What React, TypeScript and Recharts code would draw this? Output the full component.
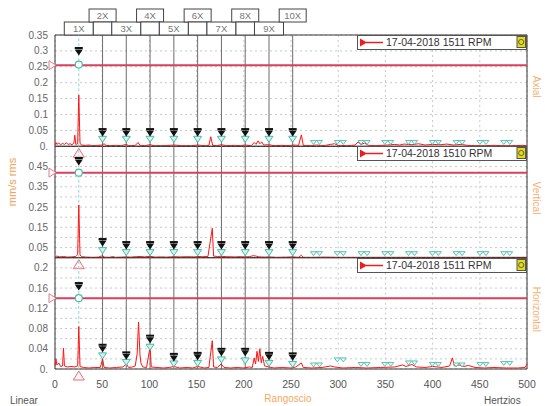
import React from "react";
import {
  ComposedChart, Line, Scatter, XAxis, YAxis, CartesianGrid,
  ReferenceLine, ReferenceArea,
} from "recharts";

// harmonics of 1511 rpm
const harmonicHz = [25.2, 50.4, 75.5, 100.7, 125.9, 151.1, 176.3, 201.5, 226.7, 251.8,
  277.0, 302.2, 327.4, 352.5, 377.7, 402.9, 428.1, 453.3, 478.5];
const harmonicNames = ["1X", "2X", "3X", "4X", "5X", "6X", "7X", "8X", "9X", "10X"];
const xTicks = [0, 50, 100, 150, 200, 250, 300, 350, 400, 450, 500];

// Axial
const axialHz = [0, 1, 2, 4, 6, 8, 10, 12, 14, 16, 18, 20, 21, 22, 24, 25.2, 26.5, 28, 32, 36, 40, 45, 50, 52, 54,
  58, 64, 70, 75.5, 78, 85, 88, 90, 95, 100.7, 105, 115, 126, 135, 145, 151, 158, 163, 165, 167, 172, 176, 182,
  190, 196, 201, 208, 211, 213, 215, 217, 219, 221, 226.6, 232, 240, 248, 252, 258, 261, 263, 270, 277, 285, 292,
  296, 300, 310, 318, 321, 324, 328, 332, 340, 352, 360, 365, 370, 378, 385, 392, 400, 408, 415, 422, 430, 437,
  445, 455, 465, 475, 485, 495, 500];
const axialAmp = [0.004, 0.012, 0.006, 0.01, 0.005, 0.009, 0.006, 0.011, 0.006, 0.008, 0.005, 0.01, 0.035, 0.006,
  0.008, 0.161, 0.01, 0.004, 0.003, 0.004, 0.002, 0.003, 0.004, 0.008, 0.003, 0.002, 0.003, 0.002, 0.006, 0.002,
  0.003, 0.012, 0.003, 0.002, 0.005, 0.002, 0.002, 0.004, 0.002, 0.002, 0.004, 0.002, 0.003, 0.03, 0.003, 0.002,
  0.005, 0.002, 0.003, 0.002, 0.004, 0.002, 0.012, 0.006, 0.017, 0.008, 0.014, 0.004, 0.005, 0.002, 0.003, 0.002,
  0.004, 0.003, 0.036, 0.003, 0.002, 0.004, 0.002, 0.006, 0.008, 0.003, 0.002, 0.004, 0.014, 0.006, 0.01, 0.003,
  0.002, 0.004, 0.006, 0.004, 0.007, 0.005, 0.008, 0.004, 0.006, 0.005, 0.007, 0.004, 0.006, 0.003, 0.002, 0.002,
  0.003, 0.002, 0.002, 0.003, 0.002];
const axialMarks = [0.295, 0.04, 0.04, 0.04, 0.04, 0.04, 0.04, 0.04, 0.04, 0.04];
const axialLevels = [0.257, 0.022, 0.022, 0.022, 0.022, 0.022, 0.022, 0.022, 0.022, 0.022,
  0.012, 0.012, 0.012, 0.012, 0.012, 0.012, 0.012, 0.012, 0.012];
const axialTicks = [0, 0.05, 0.1, 0.15, 0.2, 0.25, 0.3, 0.35];
const axialLabels = ["0.", "0.05", "0.1", "0.15", "0.2", "0.25", "0.3", "0.35"];

// Vertical
const vertHz = [0, 2, 5, 9, 13, 18, 22, 24, 25.2, 26.5, 28, 33, 40, 46, 50.4, 52, 58, 61, 64, 70, 75.5, 80, 86, 90,
  95, 100.7, 106, 112, 118, 126, 132, 140, 148, 151, 156, 162, 166.6, 168, 172, 176, 182, 190, 196, 201, 206, 210,
  213, 216, 222, 227, 235, 245, 252, 258, 261, 263, 272, 285, 300, 320, 340, 360, 380, 400, 420, 440, 460, 480, 500];
const vertAmp = [0.004, 0.008, 0.004, 0.006, 0.003, 0.004, 0.006, 0.015, 0.26, 0.014, 0.005, 0.003, 0.002, 0.003,
  0.01, 0.003, 0.002, 0.006, 0.002, 0.003, 0.004, 0.003, 0.005, 0.006, 0.004, 0.007, 0.003, 0.004, 0.003, 0.005,
  0.004, 0.005, 0.004, 0.006, 0.005, 0.006, 0.145, 0.008, 0.006, 0.007, 0.005, 0.004, 0.005, 0.004, 0.005, 0.01,
  0.008, 0.004, 0.003, 0.004, 0.002, 0.003, 0.004, 0.002, 0.012, 0.002, 0.002, 0.003, 0.002, 0.002, 0.002, 0.002,
  0.002, 0.002, 0.002, 0.002, 0.002, 0.002, 0.002];
const vertMarks = [0.47, 0.07, 0.055, 0.055, 0.055, 0.055, 0.055, 0.055, 0.055, 0.055];
const vertLevels = [0.42, 0.035, 0.025, 0.025, 0.025, 0.025, 0.025, 0.025, 0.025, 0.025,
  0.02, 0.02, 0.02, 0.02, 0.02, 0.02, 0.02, 0.02, 0.02];
const vertTicks = [0, 0.05, 0.1, 0.15, 0.2, 0.25, 0.3, 0.35, 0.4, 0.45, 0.5, 0.55];
const vertLabels = ["", "0.05", "", "0.15", "", "0.25", "", "0.35", "", "0.45", "", ""];

// Horizontal
const horHz = [0, 1, 2, 4, 6, 8, 9, 10, 13, 17, 21, 24, 25.2, 26.5, 30, 36, 42, 48, 50.4, 52, 58, 65, 72, 75.5, 78,
  82, 85, 87, 88.5, 90, 91, 93, 97, 100.7, 102, 108, 115, 121, 126, 132, 140, 146, 151, 158, 163, 166.6, 168, 172,
  176, 179, 186, 193, 200, 206, 209, 211, 212.5, 214, 215.5, 217, 218.5, 220, 222, 226.6, 232, 240, 250, 255, 261,
  263, 272, 283, 292, 296, 305, 318, 330, 345, 360, 368, 372, 378, 383, 392, 400, 410, 418, 421, 423, 428, 433,
  438, 445, 455, 465, 478, 490, 498, 500];
const horAmp = [0.006, 0.02, 0.008, 0.012, 0.005, 0.006, 0.041, 0.006, 0.004, 0.005, 0.004, 0.006, 0.084, 0.005,
  0.003, 0.002, 0.003, 0.003, 0.02, 0.003, 0.002, 0.003, 0.004, 0.01, 0.003, 0.004, 0.006, 0.03, 0.093, 0.028,
  0.012, 0.004, 0.003, 0.044, 0.004, 0.003, 0.002, 0.003, 0.005, 0.002, 0.003, 0.002, 0.005, 0.002, 0.003, 0.056,
  0.004, 0.003, 0.01, 0.003, 0.002, 0.003, 0.002, 0.004, 0.003, 0.022, 0.01, 0.035, 0.015, 0.04, 0.012, 0.025,
  0.006, 0.004, 0.002, 0.003, 0.002, 0.004, 0.012, 0.003, 0.002, 0.003, 0.006, 0.004, 0.002, 0.003, 0.002, 0.003,
  0.004, 0.008, 0.005, 0.009, 0.004, 0.003, 0.005, 0.003, 0.006, 0.022, 0.006, 0.008, 0.005, 0.007, 0.003, 0.002,
  0.003, 0.002, 0.002, 0.003, 0.01];
const horMarks = [0.161, 0.039, 0.024, 0.057, 0.021, 0.023, 0.031, 0.031, 0.023, 0.022];
const horLevels = [0.14, 0.026, 0.013, 0.043, 0.01, 0.011, 0.018, 0.016, 0.011, 0.009,
  0.008, 0.018, 0.009, 0.009, 0.012, 0.009, 0.008, 0.009, 0.011];
const horTicks = [0, 0.02, 0.04, 0.06, 0.08, 0.1, 0.12, 0.14, 0.16, 0.18, 0.2, 0.22];
const horLabels = ["0.", "", "0.04", "", "0.08", "", "0.12", "", "0.16", "", "0.2", ""];

const W = 545;
const H = 406;
const FONT = "'Liberation Sans', Arial, sans-serif";
const CYAN = "#48bcb0";
const PINK = "#d8405e";

const panels = [
  { name: "Axial", hz: axialHz, amp: axialAmp, marks: axialMarks, levels: axialLevels, alarm: 0.255, max: 0.35,
    ticks: axialTicks, labels: axialLabels, top: 35, bottom: 146.3, rpm: "17-04-2018 1511 RPM" },
  { name: "Vertical", hz: vertHz, amp: vertAmp, marks: vertMarks, levels: vertLevels, alarm: 0.42, max: 0.55,
    ticks: vertTicks, labels: vertLabels, top: 146.3, bottom: 257.7, rpm: "17-04-2018 1510 RPM" },
  { name: "Horizontal", hz: horHz, amp: horAmp, marks: horMarks, levels: horLevels, alarm: 0.14, max: 0.22,
    ticks: horTicks, labels: horLabels, top: 257.7, bottom: 369, rpm: "17-04-2018 1511 RPM" },
];

const blackMark = (p: any) => (
  <g>
    <rect x={p.cx - 4} y={p.cy - 5.5} width={8} height={2} fill="#111" />
    <path d={`M${p.cx - 4},${p.cy - 3}L${p.cx + 4},${p.cy - 3}L${p.cx},${p.cy + 3}Z`} fill="#111" />
  </g>
);

const cyanMark = (p: any) => (
  <path d={`M${p.cx - 4},${p.cy - 3}L${p.cx + 4},${p.cy - 3}L${p.cx},${p.cy + 3}Z`}
    fill="#d4f1ec" stroke={CYAN} strokeWidth={1} />
);

const cyanPair = (p: any) => (
  <path d={`M${p.cx - 6},${p.cy - 2}L${p.cx},${p.cy - 2}L${p.cx - 3},${p.cy + 2}Z M${p.cx},${p.cy - 2}L${p.cx + 6},${p.cy - 2}L${p.cx + 3},${p.cy + 2}Z`}
    fill="#eefaf8" stroke={CYAN} strokeWidth={0.9} />
);

const cyanRing = (p: any) => (
  <circle cx={p.cx} cy={p.cy} r={3.5} fill="#fff" stroke={CYAN} strokeWidth={1.2} />
);

const pinkUp = (p: any) => (
  <path d={`M${p.cx},${p.cy + 2}L${p.cx + 5.5},${p.cy + 11}L${p.cx - 5.5},${p.cy + 11}Z`}
    fill="#fff4f4" stroke="#e0707e" strokeWidth={1} />
);

function HeaderBox({ viewBox, idx }: any) {
  if (!viewBox) return null;
  const x = viewBox.x;
  const top = viewBox.y;
  const h = idx + 1;
  const txt = { fontSize: 9.5, fill: "#777", fontFamily: FONT, textAnchor: "middle" as const };
  if (h % 2 === 1) {
    return (
      <g>
        <rect x={x - 14.5} y={top - 13} width={29} height={13} fill="#fff" stroke="#444" />
        <text x={x} y={top - 3} {...txt}>{harmonicNames[idx]}</text>
      </g>
    );
  }
  return (
    <g>
      <rect x={x - 13.5} y={top - 26} width={27} height={13} fill="#fff" stroke="#444" />
      <text x={x} y={top - 16} {...txt}>{harmonicNames[idx]}</text>
      {h < 10 && <rect x={x - 9.25} y={top - 13} width={18.5} height={13} fill="#fff" stroke="#444" />}
    </g>
  );
}

function AlarmTag({ viewBox }: any) {
  if (!viewBox) return null;
  const x = viewBox.x;
  const y = viewBox.y;
  return <path d={`M${x - 6},${y - 4.5}L${x + 1},${y}L${x - 6},${y + 4.5}Z`} fill="#fff" stroke="#e07a88" strokeWidth={1} />;
}

function SpectrumPanel({ panel, index }: any) {
  const last = index === 2;
  const line = panel.hz.map((f: number, i: number) => ({ f, a: panel.amp[i] }));
  const black = harmonicHz.slice(0, 10).map((f, i) => ({ f, v: panel.marks[i] }));
  const cyanLow = harmonicHz.slice(1, 10).map((f, i) => ({ f, v: panel.levels[i + 1] }));
  const cyanHigh = harmonicHz.slice(10).map((f, i) => ({ f, v: panel.levels[i + 10] }));
  const ring = [{ f: harmonicHz[0], v: panel.levels[0] }];
  const base = [{ f: harmonicHz[0], v: 0 }];
  const xH = 20;
  return (
    <div style={{ position: "absolute", left: 0, top: 0 }}>
      <ComposedChart width={W} height={H}
        margin={{ top: panel.top, right: 18, left: 0, bottom: H - panel.bottom - (last ? xH : 0) }}>
        <CartesianGrid stroke="#c9c9c9" strokeDasharray="2 3" />
        <XAxis dataKey="f" type="number" domain={[0, 500]} ticks={xTicks} hide={!last} height={xH}
          axisLine={false} tickLine={false} tickMargin={6} interval={0}
          tick={{ fontSize: 10.5, fill: "#555", fontFamily: FONT }} />
        <YAxis type="number" domain={[0, panel.max]} ticks={panel.ticks} width={55} interval={0}
          axisLine={false} tickLine={false} tickSize={4} tickMargin={3}
          tickFormatter={(v: number) => panel.labels[panel.ticks.indexOf(v)] ?? ""}
          tick={{ fontSize: 10, fill: "#666", fontFamily: FONT }} />
        <ReferenceArea x1={0} x2={500} y1={0} y2={panel.max} fill="none" fillOpacity={0}
          stroke="#333" strokeWidth={1} />
        {harmonicHz.slice(0, 10).map((f, i) => (
          <ReferenceLine key={f} x={f}
            stroke={i === 0 ? "#8fd9d0" : "#6c6c6c"} strokeWidth={1}
            strokeDasharray={i === 0 ? "3 2" : undefined}
            label={index === 0 ? (p: any) => <HeaderBox {...p} idx={i} /> : undefined} />
        ))}
        <ReferenceLine y={panel.alarm} stroke={PINK} strokeWidth={2}
          label={(p: any) => <AlarmTag {...p} />} />
        <Line data={line} dataKey="a" type="linear" stroke="#ff1414" strokeWidth={1}
          dot={false} isAnimationActive={false} />
        <Scatter data={cyanHigh} dataKey="v" shape={cyanPair} isAnimationActive={false} />
        <Scatter data={cyanLow} dataKey="v" shape={cyanMark} isAnimationActive={false} />
        <Scatter data={ring} dataKey="v" shape={cyanRing} isAnimationActive={false} />
        <Scatter data={black} dataKey="v" shape={blackMark} isAnimationActive={false} />
        <Scatter data={base} dataKey="v" shape={pinkUp} isAnimationActive={false} />
      </ComposedChart>
    </div>
  );
}

function LegendBox({ top, text }: { top: number; text: string }) {
  return (
    <div style={{
      position: "absolute", left: 357, top, width: 170, height: 15, boxSizing: "border-box",
      border: "1px solid #555", background: "#fff", fontFamily: FONT,
    }}>
      <svg width={168} height={13} style={{ position: "absolute", left: 0, top: 0 }}>
        <path d="M2,2.5L9,6.5L2,10.5Z" fill="#ee1c1c" />
        <line x1={8} y1={6.5} x2={25} y2={6.5} stroke="#ee1c1c" strokeWidth={1.5} />
        <rect x={159} y={0.5} width={8.5} height={11} fill="#e4dc10" stroke="#555" strokeWidth={1} />
        <circle cx={163.2} cy={6} r={2.6} fill="none" stroke="#555" strokeWidth={0.9} />
      </svg>
      <span style={{ position: "absolute", left: 28, top: 0, fontSize: 10.5, lineHeight: "13px", color: "#333", whiteSpace: "nowrap" }}>
        {text}
      </span>
    </div>
  );
}

export default function App() {
  return (
    <div style={{ position: "absolute", left: 0, top: 0, width: W, height: H, background: "#fff", overflow: "hidden" }}>
      {panels.map((p, i) => <SpectrumPanel key={p.name} panel={p} index={i} />)}
      {panels.map((p) => <LegendBox key={p.name} top={p.top} text={p.rpm} />)}
      <svg width={W} height={H} style={{ position: "absolute", left: 0, top: 0, pointerEvents: "none" }}>
        <text transform="translate(16,182) rotate(-90)" textAnchor="middle" fontSize={11}
          fill="#f0a050" fontFamily={FONT}>mm/s rms</text>
        {panels.map((p) => (
          <text key={p.name} transform={`translate(533,${(p.top + p.bottom) / 2 - 4}) rotate(90)`}
            textAnchor="middle" fontSize={10} fill="#f5b070" fontFamily={FONT}>{p.name}</text>
        ))}
        <text x={10} y={404} fontSize={10} fill="#555" fontFamily={FONT}>Linear</text>
        <text x={288} y={402} textAnchor="middle" fontSize={10} fill="#f5a860" fontFamily={FONT}>Rangoscio</text>
        <text x={484} y={404} fontSize={10} fill="#555" fontFamily={FONT}>Hertzios</text>
      </svg>
    </div>
  );
}
